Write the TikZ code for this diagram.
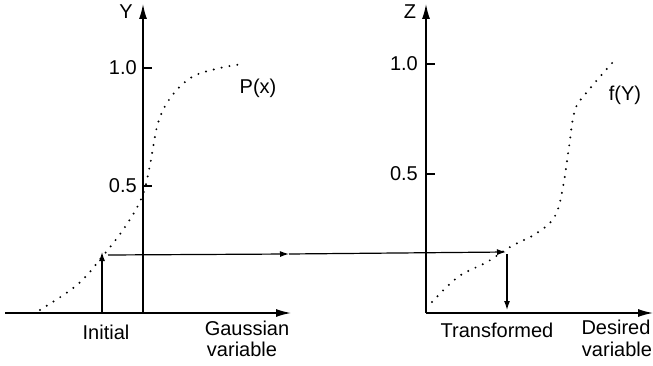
\documentclass[tikz,border=0pt]{standalone}
\usepackage{fontspec}
\setmainfont{Liberation Sans}
\usetikzlibrary{arrows.meta}
\begin{document}
\begin{tikzpicture}[x=1pt,y=-1pt,
  axis/.style={line width=1.4pt,-{Latex[length=15pt,width=8pt]}},
  flow/.style={line width=1.2pt,-{Latex[length=9pt,width=6pt]}},
  tick/.style={line width=1.2pt},
  curve/.style={line width=2.2pt,line cap=round,dash pattern=on 0pt off 8pt},
  lbl/.style={font=\fontsize{20}{22}\selectfont,inner sep=0pt}]
\useasboundingbox (0,0) rectangle (653,366);
% left axes
\coordinate (lxs) at (5,313);
\coordinate (lxe) at (291,313);
\coordinate (lo) at (143,313);
\coordinate (lyt) at (143,4);
\draw[axis] (lxs) -- (lxe);
\draw[axis] (lo) -- (lyt);
\coordinate (lt1) at (143,68); \coordinate (lt1e) at (152,68);
\coordinate (lt5) at (143,186); \coordinate (lt5e) at (152,186);
\draw[tick] (lt1) -- (lt1e);
\draw[tick] (lt5) -- (lt5e);
\node[lbl,anchor=east] (l10) at (137,68) {1.0};
\node[lbl,anchor=east] (l05) at (137,186) {0.5};
\node[lbl] (ylab) at (126,12) {Y};
\draw[curve] plot[smooth,tension=0.6] coordinates {(40,310) (77,285) (102,257) (125,227) (142,197) (150,165) (158,123) (171,97) (192,77) (220,68) (243,64)};
\node[lbl] (px) at (258,88) {P(x)};
% right axes
\coordinate (rxs) at (426,313);
\coordinate (rxe) at (653,313);
\coordinate (ryt) at (426,4);
\draw[axis] (rxs) -- (rxe);
\draw[axis] (rxs) -- (ryt);
\coordinate (rt1) at (426,64); \coordinate (rt1e) at (435,64);
\coordinate (rt5) at (426,174); \coordinate (rt5e) at (435,174);
\draw[tick] (rt1) -- (rt1e);
\draw[tick] (rt5) -- (rt5e);
\node[lbl,anchor=east] (r10) at (418,64) {1.0};
\node[lbl,anchor=east] (r05) at (418,174) {0.5};
\node[lbl] (zlab) at (410,12) {Z};
\draw[curve] plot[smooth,tension=0.6] coordinates {(432,302) (458,277) (487,262) (510,247) (537,233) (555,216) (563,187) (569,147) (575,110) (587,92) (613,62)};
\node[lbl] (fy) at (625,95) {f(Y)};
% flow arrows
\coordinate (ia) at (102,313);
\coordinate (ib) at (102,252);
\draw[flow] (ia) -- (ib);
\coordinate (ha) at (108,255);
\coordinate (hm) at (289,254);
\coordinate (hb) at (506,252);
\draw[flow] (ha) -- (hm);
\draw[flow] (hm) -- (hb);
\coordinate (da) at (507,254);
\coordinate (db) at (507,310);
\draw[flow] (da) -- (db);
% labels
\node[lbl] (init) at (106,332) {Initial};
\node[lbl] (gau1) at (247,328) {Gaussian};
\node[lbl] (gau2) at (242,349) {variable};
\node[lbl] (trans) at (497,330) {Transformed};
\node[lbl] (des1) at (616,327) {Desired};
\node[lbl] (des2) at (617,349) {variable};
\end{tikzpicture}
\end{document}
